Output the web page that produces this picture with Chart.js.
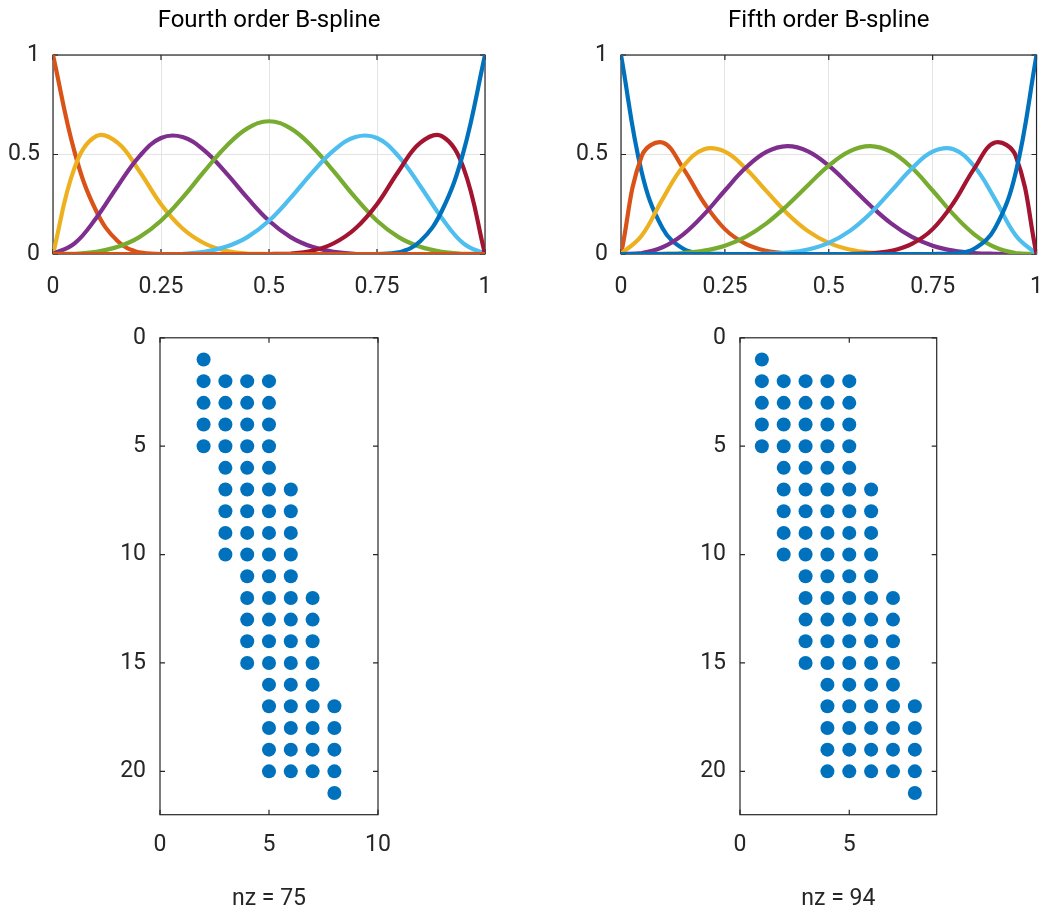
<!DOCTYPE html>
<html>
<head>
<meta charset="utf-8">
<title>B-spline basis functions</title>
<script src="https://cdn.jsdelivr.net/npm/chart.js@4"></script>
<style>
  html, body { margin: 0; padding: 0; background: #fff; overflow: hidden; }
  canvas { position: absolute; }
</style>
</head>
<body>
<canvas id="fourth" width="531" height="310" style="left:0;top:0"></canvas>
<canvas id="fifth" width="531" height="310" style="left:531px;top:0"></canvas>
<canvas id="spy4" width="531" height="601" style="left:0;top:310px"></canvas>
<canvas id="spy5" width="531" height="601" style="left:531px;top:310px"></canvas>
<script>
// sample positions along [0, 1]
const xs = [0, 0.05, 0.1, 0.15, 0.2, 0.25, 0.3, 0.35, 0.4, 0.45, 0.5, 0.55, 0.6, 0.65, 0.7, 0.75, 0.8, 0.85, 0.9, 0.95, 1];

// fourth order basis, 9 columns (first and last are all zero)
const fourth0 = [0, 0, 0, 0, 0, 0, 0, 0, 0, 0, 0, 0, 0, 0, 0, 0, 0, 0, 0, 0, 0];
const fourth1 = [1, .512, .216, .064, .008, 0, 0, 0, 0, 0, 0, 0, 0, 0, 0, 0, 0, 0, 0, 0, 0];
const fourth2 = [0, .434, .592, .558, .416, .25, .128, .054, .016, .002, 0, 0, 0, 0, 0, 0, 0, 0, 0, 0, 0];
const fourth3 = [0, .053, .181, .342, .491, .583, .588, .521, .409, .282, .167, .085, .036, .011, .001, 0, 0, 0, 0, 0, 0];
const fourth4 = [0, .001, .011, .036, .085, .167, .283, .415, .539, .631, .667, .631, .539, .415, .283, .167, .085, .036, .011, .001, 0];
const fourth5 = [0, 0, 0, 0, 0, 0, .001, .011, .036, .085, .167, .282, .409, .521, .588, .583, .491, .342, .181, .053, 0];
const fourth6 = [0, 0, 0, 0, 0, 0, 0, 0, 0, 0, 0, .002, .016, .054, .128, .25, .416, .558, .592, .434, 0];
const fourth7 = [0, 0, 0, 0, 0, 0, 0, 0, 0, 0, 0, 0, 0, 0, 0, 0, .008, .064, .216, .512, 1];
const fourth8 = [0, 0, 0, 0, 0, 0, 0, 0, 0, 0, 0, 0, 0, 0, 0, 0, 0, 0, 0, 0, 0];

// fifth order basis, 8 columns
const fifth1 = [1, .41, .13, .026, .002, 0, 0, 0, 0, 0, 0, 0, 0, 0, 0, 0, 0, 0, 0, 0, 0];
const fifth2 = [0, .493, .56, .429, .256, .125, .051, .016, .003, 0, 0, 0, 0, 0, 0, 0, 0, 0, 0, 0, 0];
const fifth3 = [0, .093, .276, .441, .526, .514, .43, .316, .204, .115, .056, .023, .007, .001, 0, 0, 0, 0, 0, 0, 0];
const fifth4 = [0, .005, .034, .099, .199, .319, .433, .513, .542, .516, .444, .346, .244, .154, .086, .042, .017, .005, .001, 0, 0];
const fifth5 = [0, 0, .001, .005, .017, .042, .086, .154, .244, .346, .444, .516, .542, .513, .433, .319, .199, .099, .034, .005, 0];
const fifth6 = [0, 0, 0, 0, 0, 0, 0, .001, .007, .023, .056, .115, .204, .316, .43, .514, .526, .441, .276, .093, 0];
const fifth7 = [0, 0, 0, 0, 0, 0, 0, 0, 0, 0, 0, 0, .003, .016, .051, .125, .256, .429, .56, .493, 0];
const fifth8 = [0, 0, 0, 0, 0, 0, 0, 0, 0, 0, 0, 0, 0, 0, 0, 0, .002, .026, .13, .41, 1];

// nonzero columns in each row of the collocation matrices (rows 1..21)
const spy4Cols = [
  [2],
  [2, 3, 4, 5], [2, 3, 4, 5], [2, 3, 4, 5], [2, 3, 4, 5],
  [3, 4, 5],
  [3, 4, 5, 6], [3, 4, 5, 6], [3, 4, 5, 6], [3, 4, 5, 6],
  [4, 5, 6],
  [4, 5, 6, 7], [4, 5, 6, 7], [4, 5, 6, 7], [4, 5, 6, 7],
  [5, 6, 7],
  [5, 6, 7, 8], [5, 6, 7, 8], [5, 6, 7, 8], [5, 6, 7, 8],
  [8]
];
const spy5Cols = [
  [1],
  [1, 2, 3, 4, 5], [1, 2, 3, 4, 5], [1, 2, 3, 4, 5], [1, 2, 3, 4, 5],
  [2, 3, 4, 5],
  [2, 3, 4, 5, 6], [2, 3, 4, 5, 6], [2, 3, 4, 5, 6], [2, 3, 4, 5, 6],
  [3, 4, 5, 6],
  [3, 4, 5, 6, 7], [3, 4, 5, 6, 7], [3, 4, 5, 6, 7], [3, 4, 5, 6, 7],
  [4, 5, 6, 7],
  [4, 5, 6, 7, 8], [4, 5, 6, 7, 8], [4, 5, 6, 7, 8], [4, 5, 6, 7, 8],
  [8]
];

// tick labels
const curveXTicks = [0, 0.25, 0.5, 0.75, 1];
const curveYTicks = [0, 0.5, 1];
const spy4XTicks = [0, 5, 10];
const spy5XTicks = [0, 5];
const spyYTicks = [0, 5, 10, 15, 20];

const lineColors = ['#0072BD', '#D95319', '#EDB120', '#7E2F8E', '#77AC30', '#4DBEEE', '#A2142F'];
const axisColor = '#262626';
const font = { family: 'Roboto', size: 23 };

Chart.defaults.font.family = 'Roboto';
Chart.defaults.font.size = 23;
Chart.defaults.color = axisColor;

// matlab style box with inward ticks, drawn under the data
const boxPlugin = {
  id: 'box',
  beforeDatasetsDraw(chart) {
    const { ctx, chartArea: a, scales: { x, y } } = chart;
    const len = 5;
    ctx.save();
    ctx.strokeStyle = axisColor;
    ctx.lineWidth = 1.2;
    ctx.strokeRect(a.left, a.top, a.right - a.left, a.bottom - a.top);
    ctx.beginPath();
    x.ticks.forEach(t => {
      const px = x.getPixelForValue(t.value);
      ctx.moveTo(px, a.bottom); ctx.lineTo(px, a.bottom - len);
      ctx.moveTo(px, a.top); ctx.lineTo(px, a.top + len);
    });
    y.ticks.forEach(t => {
      const py = y.getPixelForValue(t.value);
      ctx.moveTo(a.left, py); ctx.lineTo(a.left + len, py);
      ctx.moveTo(a.right, py); ctx.lineTo(a.right - len, py);
    });
    ctx.stroke();
    ctx.restore();
  }
};

// title centred over the axes, like matlab does
const axTitlePlugin = {
  id: 'axTitle',
  afterDraw(chart, args, opts) {
    if (!opts.text) return;
    const { ctx, chartArea: a } = chart;
    ctx.save();
    ctx.font = '24px Roboto';
    ctx.fillStyle = '#000';
    ctx.textAlign = 'center';
    ctx.textBaseline = 'middle';
    ctx.fillText(opts.text, (a.left + a.right) / 2, opts.y);
    ctx.restore();
  }
};

const fixTicks = vals => s => { s.ticks = vals.map(v => ({ value: v })); };

function curveChart(id, title, series, leftW, rightPad) {
  new Chart(document.getElementById(id), {
    type: 'line',
    data: {
      datasets: series.map((ys, i) => ({
        data: ys.map((y, k) => ({ x: xs[k], y: y })),
        borderColor: lineColors[i % lineColors.length],
        borderWidth: 4.2,
        pointRadius: 0,
        tension: 0.4,
        fill: false,
        order: -i
      }))
    },
    options: {
      responsive: false,
      animation: false,
      events: [],
      layout: { padding: { left: 0, right: rightPad, top: 55, bottom: 0 } },
      plugins: {
        legend: { display: false },
        tooltip: { enabled: false },
        axTitle: { text: title, y: 21 }
      },
      scales: {
        x: {
          type: 'linear', min: 0, max: 1,
          afterBuildTicks: fixTicks(curveXTicks),
          afterFit: s => { s.height = 56; },
          grid: { color: '#e3e3e3', lineWidth: 1, drawTicks: false },
          border: { display: false },
          ticks: { padding: 19, font: font, color: axisColor, maxRotation: 0, callback: v => String(v) }
        },
        y: {
          type: 'linear', min: 0, max: 1,
          afterBuildTicks: fixTicks(curveYTicks),
          afterFit: s => { s.width = leftW; },
          grid: { color: '#e3e3e3', lineWidth: 1, drawTicks: false },
          border: { display: false },
          ticks: { padding: 13, font: font, color: axisColor, callback: v => String(v) }
        }
      }
    },
    plugins: [boxPlugin, axTitlePlugin]
  });
}

function spyChart(id, rows, xMax, xTicks, label, leftW, rightPad) {
  const pts = rows.flatMap((cols, r) => cols.map(c => ({ x: c, y: r + 1 })));
  new Chart(document.getElementById(id), {
    type: 'scatter',
    data: {
      datasets: [{
        data: pts,
        pointRadius: 7,
        pointBackgroundColor: '#0072BD',
        pointBorderWidth: 0,
        borderColor: '#0072BD'
      }]
    },
    options: {
      responsive: false,
      animation: false,
      events: [],
      layout: { padding: { left: 0, right: rightPad, top: 23.3, bottom: 0 } },
      plugins: { legend: { display: false }, tooltip: { enabled: false } },
      scales: {
        x: {
          type: 'linear', min: 0, max: xMax,
          afterBuildTicks: fixTicks(xTicks),
          afterFit: s => { s.height = 96.3; },
          grid: { display: false, drawTicks: false },
          border: { display: false },
          ticks: { padding: 17, font: font, color: axisColor, maxRotation: 0 },
          title: {
            display: true, text: label, color: axisColor,
            font: { family: 'Roboto', size: 23, lineHeight: 1 },
            padding: { top: 0, bottom: 0 }
          }
        },
        y: {
          type: 'linear', min: 0, max: 22, reverse: true,
          afterBuildTicks: fixTicks(spyYTicks),
          afterFit: s => { s.width = leftW; },
          grid: { display: false, drawTicks: false },
          border: { display: false },
          ticks: { padding: 14, font: font, color: axisColor }
        }
      }
    },
    plugins: [boxPlugin]
  });
}

curveChart('fourth', 'Fourth order B-spline',
  [fourth0, fourth1, fourth2, fourth3, fourth4, fourth5, fourth6, fourth7, fourth8], 53, 46);
curveChart('fifth', 'Fifth order B-spline',
  [fifth1, fifth2, fifth3, fifth4, fifth5, fifth6, fifth7, fifth8], 90, 7);
spyChart('spy4', spy4Cols, 10, spy4XTicks, 'nz = 75', 160, 153);
spyChart('spy5', spy5Cols, 9, spy5XTicks, 'nz = 94', 209, 125.3);
</script>
</body>
</html>
